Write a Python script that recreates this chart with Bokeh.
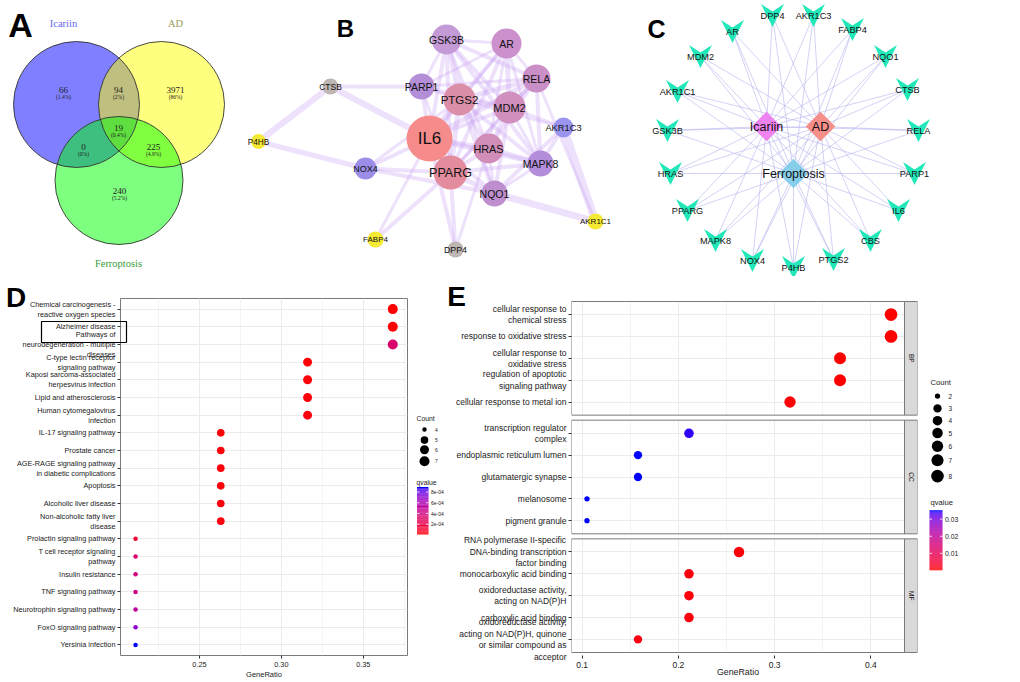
import numpy as np
from bokeh.plotting import figure
from bokeh.models import (Range1d, FactorRange, FixedTicker, NumeralTickFormatter,
                          ColumnDataSource)
from bokeh.transform import linear_cmap
from bokeh.layouts import row, column
from bokeh.embed import file_html
from bokeh.resources import INLINE
from bokeh.core.properties import value

SANS = "Liberation Sans"
SERIF = "Liberation Serif"

# ====================== DATA ======================
# --- Panel A: Venn diagram
venn_names = ["Icariin", "AD", "Ferroptosis"]
venn_fill = ["#0000FF", "#FFFF00", "#00FF00"]
venn_name_color = ["#6666F0", "#9C9C5A", "#3A9A3A"]
venn_cx = [76, 161, 118.5]
venn_cy = [104, 104, 180]
venn_r = [63, 63, 64]
venn_name_x = [63, 175, 118]
venn_name_y = [23, 23, 263]
venn_counts = ["66", "94", "3971", "0", "19", "225", "240"]
venn_pcts = ["(1.4%)", "(2%)", "(86%)", "(0%)", "(0.4%)", "(4.9%)", "(5.2%)"]
venn_lx = [63, 118, 175, 83, 118, 153, 119]
venn_ly = [89, 89, 89, 146, 127, 146, 190]

# --- Panel B: PPI network
b_nodes = ["GSK3B", "AR", "RELA", "CTSB", "PARP1", "PTGS2", "MDM2", "AKR1C3", "P4HB",
           "IL6", "HRAS", "MAPK8", "NOX4", "PPARG", "NQO1", "AKR1C1", "FABP4", "DPP4"]
b_x = [446, 506, 536, 330, 421, 459, 509, 563, 258, 429, 488, 540, 365, 450, 494, 595, 375, 455]
b_y = [39, 43, 78, 86, 86, 99, 107, 127, 141, 138, 148, 163, 168, 172, 193, 221, 239, 249]
b_r = [15, 15, 14, 8, 13, 16, 16, 10, 7.5, 23, 15, 13, 11, 17, 13, 8, 8, 8]
b_fill = ["#C49BD6", "#CC90CC", "#CB8FC8", "#BDB6B2", "#B48FD8", "#DA8EA8", "#D08FBE",
          "#9A94EE", "#F5E933", "#F68B8B", "#CF8DB8", "#B38DDA", "#9C8DE8", "#E38C9D",
          "#BE8ECF", "#F5E933", "#F5E933", "#BDB6B2"]
b_font = [10.5, 10.5, 10.5, 8.5, 10.5, 11.5, 11, 9.3, 8.3, 17, 10.8, 10.5, 9, 12.5, 10.5, 8, 8, 8.8]
b_src = ["IL6", "IL6", "IL6", "IL6", "IL6", "IL6", "IL6", "IL6", "IL6", "IL6",
         "PTGS2", "PTGS2", "PTGS2", "PTGS2", "PTGS2", "PTGS2", "PTGS2", "PTGS2", "PTGS2",
         "PPARG", "PPARG", "PPARG", "PPARG", "PPARG", "PPARG", "PPARG", "PPARG",
         "HRAS", "HRAS", "HRAS", "HRAS", "HRAS", "HRAS",
         "MDM2", "MDM2", "MDM2", "MDM2", "MDM2", "MDM2",
         "GSK3B", "GSK3B", "GSK3B", "GSK3B", "GSK3B",
         "AR", "AR", "AR", "RELA", "RELA", "MAPK8",
         "CTSB", "CTSB", "CTSB", "P4HB", "NOX4", "NOX4", "NOX4", "NOX4",
         "FABP4", "FABP4", "DPP4", "DPP4", "DPP4",
         "AKR1C3", "NQO1", "AKR1C3", "AKR1C3", "AKR1C3", "AKR1C3", "AKR1C1"]
b_dst = ["PTGS2", "PPARG", "HRAS", "MDM2", "GSK3B", "AR", "RELA", "PARP1", "MAPK8", "NQO1",
         "PPARG", "HRAS", "MDM2", "GSK3B", "AR", "RELA", "PARP1", "MAPK8", "NQO1",
         "HRAS", "MDM2", "GSK3B", "AR", "RELA", "PARP1", "MAPK8", "NQO1",
         "MDM2", "GSK3B", "AR", "RELA", "MAPK8", "NQO1",
         "GSK3B", "AR", "RELA", "PARP1", "MAPK8", "NQO1",
         "AR", "RELA", "PARP1", "MAPK8", "NQO1",
         "RELA", "PARP1", "MAPK8", "MAPK8", "PARP1", "NQO1",
         "PARP1", "P4HB", "IL6", "NOX4", "IL6", "PPARG", "NQO1", "PTGS2",
         "PPARG", "IL6", "IL6", "PPARG", "HRAS",
         "AKR1C1", "AKR1C1", "NQO1", "MAPK8", "MDM2", "PTGS2", "RELA"]
b_w = [7, 6, 5, 4, 4, 3, 5, 4, 5, 4,
       5, 4, 4, 4, 4, 5, 3, 4, 4,
       4, 3, 4, 4, 4, 3, 4, 5,
       4, 3, 3, 4, 5, 3,
       4, 5, 4, 4, 3, 4,
       3, 4, 3, 4, 3,
       3, 3, 3, 4, 3, 3,
       4, 6, 6, 5, 4, 4, 4, 3,
       4, 3, 4, 4, 3,
       8, 7, 4, 4, 3, 3, 3]

# --- Panel C: compound-disease-target network
c_targets = ["AR", "DPP4", "AKR1C3", "FABP4", "NQO1", "CTSB", "RELA", "PARP1", "IL6", "CBS",
             "PTGS2", "P4HB", "NOX4", "MAPK8", "PPARG", "HRAS", "GSK3B", "AKR1C1", "MDM2"]
c_tx = [732, 772, 813, 852, 885, 907, 918, 914, 898, 870, 833, 793, 752, 715, 687, 670, 667, 677, 700]
c_ty = [31, 15, 15, 29, 56, 89, 130, 173, 210, 240, 259, 267, 260, 240, 210, 173, 130, 91, 56]
c_hubs = ["Icariin", "AD", "Ferroptosis"]
c_hx = [766, 820, 793]
c_hy = [126, 126, 173]
c_hub_fill = ["#EE82EE", "#F68E8A", "#87CEEB"]

# --- Panel D: KEGG enrichment
d_terms = ["Chemical carcinogenesis -\nreactive oxygen species",
           "Alzheimer disease",
           "Pathways of\nneurodegeneration - multiple\ndiseases",
           "C-type lectin receptor\nsignaling pathway",
           "Kaposi sarcoma-associated\nherpesvirus infection",
           "Lipid and atherosclerosis",
           "Human cytomegalovirus\ninfection",
           "IL-17 signaling pathway",
           "Prostate cancer",
           "AGE-RAGE signaling pathway\nin diabetic complications",
           "Apoptosis",
           "Alcoholic liver disease",
           "Non-alcoholic fatty liver\ndisease",
           "Prolactin signaling pathway",
           "T cell receptor signaling\npathway",
           "Insulin resistance",
           "TNF signaling pathway",
           "Neurotrophin signaling pathway",
           "FoxO signaling pathway",
           "Yersinia infection"]
d_ratio = [0.368, 0.368, 0.368, 0.316, 0.316, 0.316, 0.316, 0.263, 0.263, 0.263,
           0.263, 0.263, 0.263, 0.211, 0.211, 0.211, 0.211, 0.211, 0.211, 0.211]
d_count = [7, 7, 7, 6, 6, 6, 6, 5, 5, 5, 5, 5, 5, 4, 4, 4, 4, 4, 4, 4]
d_q = [1.0e-5, 1.5e-5, 3.4e-4, 2.0e-5, 2.5e-5, 2.5e-5, 3.0e-5, 2.0e-5, 2.5e-5, 2.5e-5,
       3.0e-5, 3.0e-5, 4.0e-5, 1.4e-4, 3.6e-4, 4.1e-4, 4.5e-4, 5.1e-4, 7.1e-4, 8.9e-4]
d_qticks = [2e-4, 4e-4, 6e-4, 8e-4]
d_qlabels = ["2e-04", "4e-04", "6e-04", "8e-04"]
d_legend_counts = [4, 5, 6, 7]

# --- Panel E: GO enrichment
e_group = ["BP"] * 5 + ["CC"] * 5 + ["MF"] * 5
e_terms = ["cellular response to\nchemical stress",
           "response to oxidative stress",
           "cellular response to\noxidative stress",
           "regulation of apoptotic\nsignaling pathway",
           "cellular response to metal ion",
           "transcription regulator\ncomplex",
           "endoplasmic reticulum lumen",
           "glutamatergic synapse",
           "melanosome",
           "pigment granule",
           "RNA polymerase II-specific\nDNA-binding transcription\nfactor binding",
           "monocarboxylic acid binding",
           "oxidoreductase activity,\nacting on NAD(P)H",
           "carboxylic acid binding",
           "oxidoreductase activity,\nacting on NAD(P)H, quinone\nor similar compound as\nacceptor"]
e_ratio = [0.421, 0.421, 0.368, 0.368, 0.316, 0.211, 0.158, 0.158, 0.105, 0.105,
           0.263, 0.211, 0.211, 0.211, 0.158]
e_count = [8, 8, 7, 7, 6, 4, 3, 3, 2, 2, 5, 4, 4, 4, 3]
e_q = [1.0e-4, 1.0e-4, 2.0e-4, 3.0e-4, 5.0e-4, 0.0345, 0.0353, 0.0353, 0.0353, 0.0353,
       6.0e-4, 8.0e-4, 8.0e-4, 9.0e-4, 1.2e-3]
e_qticks = [0.01, 0.02, 0.03]
e_qlabels = ["0.01", "0.02", "0.03"]
e_legend_counts = [2, 3, 4, 5, 6, 7, 8]


# ====================== helpers ======================
def lab_palette(c0, c1, n=256):
    M = np.array([[0.4124564, 0.3575761, 0.1804375],
                  [0.2126729, 0.7151522, 0.0721750],
                  [0.0193339, 0.1191920, 0.9503041]])
    Minv = np.linalg.inv(M)
    wp = np.array([0.95047, 1.0, 1.08883])
    dd = 6 / 29

    def h2rgb(h):
        return np.array([int(h[i:i + 2], 16) for i in (1, 3, 5)]) / 255.0

    def f(t):
        return np.where(t > dd ** 3, np.cbrt(t), t / (3 * dd * dd) + 4 / 29)

    def finv(t):
        return np.where(t > dd, t ** 3, 3 * dd * dd * (t - 4 / 29))

    def to_lab(rgb):
        lin = np.where(rgb <= 0.04045, rgb / 12.92, ((rgb + 0.055) / 1.055) ** 2.4)
        fx, fy, fz = f(M @ lin / wp)
        return np.array([116 * fy - 16, 500 * (fx - fy), 200 * (fy - fz)])

    l0, l1 = to_lab(h2rgb(c0)), to_lab(h2rgb(c1))
    out = []
    for t in np.linspace(0, 1, n):
        L, a, b = l0 + (l1 - l0) * t
        fy = (L + 16) / 116
        xyz = finv(np.array([fy + a / 500, fy, fy - b / 200])) * wp
        lin = np.clip(Minv @ xyz, 0, 1)
        rgb = np.where(lin <= 0.0031308, 12.92 * lin, 1.055 * lin ** (1 / 2.4) - 0.055)
        rgb = np.clip(np.round(rgb * 255), 0, 255).astype(int)
        out.append("#%02x%02x%02x" % tuple(rgb))
    return out


PAL = lab_palette("#FF0000", "#0000FF", 256)


def d_size(c):
    return 4.5 + 5.5 * np.sqrt((c - min(d_count)) / (max(d_count) - min(d_count)))


def e_size(c):
    return 5.3 + 7.4 * np.sqrt((c - min(e_count)) / (max(e_count) - min(e_count)))


def plain_fig(w, h, xr, yr):
    p = figure(width=w, height=h, x_range=xr, y_range=yr, x_axis_type=None, y_axis_type=None,
               toolbar_location=None, output_backend="svg", min_border=0)
    p.outline_line_color = None
    return p


def style_axes(p, tick_fs):
    for ax in (p.xaxis[0], p.yaxis[0]):
        ax.axis_line_color = None
        ax.major_tick_line_color = "#333333"
        ax.major_tick_out = 3
        ax.major_tick_in = 0
        ax.minor_tick_line_color = None
        ax.major_label_text_font = SANS
        ax.major_label_text_font_size = tick_fs
        ax.major_label_text_color = "#1A1A1A"
        ax.major_label_standoff = 2


TOP_H = 276
BOT_H = 682 - TOP_H
FR_TOP, FR_BOT = 298, 655        # common frame (page px) for panels D and E

# ====================== TOP ROW (A, B, C) ======================
top = plain_fig(1020, TOP_H, Range1d(0, 1020), Range1d(TOP_H, 0))

# Panel A
for cx, cy, r, col in zip(venn_cx, venn_cy, venn_r, venn_fill):
    top.circle(x=[cx], y=[cy], radius=r, fill_color=col, fill_alpha=0.5, line_color=None)
top.circle(x=venn_cx, y=venn_cy, radius=venn_r, fill_color=None, line_color="#333333",
           line_width=0.9)
top.text(x=venn_lx, y=venn_ly, text=venn_counts, text_font=value(SERIF), text_font_size="9px",
         text_align="center", text_baseline="middle", text_color="#222222")
top.text(x=venn_lx, y=[v + 7 for v in venn_ly], text=venn_pcts, text_font=value(SERIF),
         text_font_size="5.5px", text_align="center", text_baseline="middle", text_color="#222222")
top.text(x=venn_name_x, y=venn_name_y, text=venn_names, text_color=venn_name_color,
         text_font=value(SERIF), text_font_size="10.5px", text_align="center",
         text_baseline="middle")

# Panel B
bidx = {n: i for i, n in enumerate(b_nodes)}
top.multi_line(xs=[[b_x[bidx[s]], b_x[bidx[d]]] for s, d in zip(b_src, b_dst)],
               ys=[[b_y[bidx[s]], b_y[bidx[d]]] for s, d in zip(b_src, b_dst)],
               line_color="#C9A3F4", line_alpha=0.32, line_width=b_w)
top.circle(x=b_x, y=b_y, radius=b_r, fill_color=b_fill, line_color=None)
top.text(x=b_x, y=b_y, text=b_nodes, text_font=value(SANS),
         text_font_size=["%spx" % s for s in b_font], text_align="center",
         text_baseline="middle", text_color="#111111")

# Panel C
cxs, cys = [], []
for tx, ty in zip(c_tx, c_ty):
    for hx, hy in zip(c_hx, c_hy):
        cxs.append([tx, hx])
        cys.append([ty, hy])
top.multi_line(xs=cxs, ys=cys, line_color="#B4B4EE", line_alpha=0.75, line_width=0.8)
vw, vn = 11.5, 4.0
top.patches(xs=[[x - vw, x, x + vw, x] for x in c_tx],
            ys=[[y - vw, y - vn, y - vw, y + vw] for y in c_ty],
            fill_color="#22E8B9", line_color=None)
top.scatter(x=c_hx, y=c_hy, marker="square", angle=np.pi / 4, size=21,
            fill_color=c_hub_fill, line_color=None)
top.text(x=c_tx, y=c_ty, text=c_targets, text_font=value(SANS), text_font_size="9.2px",
         text_align="center", text_baseline="middle", text_color="#111111")
top.text(x=c_hx, y=c_hy, text=c_hubs, text_font=value(SANS), text_font_size="12.5px",
         text_align="center", text_baseline="middle", text_color="#111111")

# panel letters
top.text(x=[20, 345, 656], y=[24.5, 28, 28], text=["A", "B", "C"], text_font=value(SANS),
         text_font_size=["34px", "24px", "25px"], text_font_style="bold",
         text_align="center", text_baseline="middle", text_color="#000000")

# ====================== PANEL D ======================
D_X0, D_X1 = 0.2018, 0.377
D_PAD = 0.1
d_n = len(d_terms)
D_W = 412


def d_x(px):
    return D_X0 + (px - 120) / (407 - 120) * (D_X1 - D_X0)


def d_y(py):
    return (d_n + D_PAD) - (py - FR_TOP) / (FR_BOT - FR_TOP) * (d_n + 2 * D_PAD)


Dp = figure(width=D_W, height=BOT_H, x_range=Range1d(D_X0, D_X1),
            y_range=FactorRange(factors=list(reversed(d_terms)), range_padding=D_PAD,
                                range_padding_units="absolute"),
            toolbar_location=None, output_backend="svg",
            min_border_left=120, min_border_right=D_W - 407,
            min_border_top=FR_TOP - TOP_H, min_border_bottom=682 - FR_BOT)
Dp.outline_line_color = "#7A7A7A"
Dp.xgrid.grid_line_color = "#EBEBEB"
Dp.xgrid.minor_grid_line_color = "#F4F4F4"
Dp.ygrid.grid_line_color = "#EBEBEB"
Dp.xaxis.ticker = FixedTicker(ticks=[0.25, 0.30, 0.35], minor_ticks=[0.225, 0.275, 0.325, 0.375])
Dp.xaxis.formatter = NumeralTickFormatter(format="0.00")
style_axes(Dp, "7.3px")
Dp.yaxis.major_label_text_line_height = 1.1
src_d = ColumnDataSource(dict(term=d_terms, ratio=d_ratio, q=d_q,
                              sz=[d_size(c) for c in d_count]))
Dp.scatter("ratio", "term", size="sz", source=src_d, line_color=None,
           fill_color=linear_cmap("q", PAL, min(d_q), max(d_q)))
# axis title, highlight box around "Alzheimer disease" label and panel letter (outside the frame)
Dp.text(x=[(D_X0 + D_X1) / 2], y=[d_y(674)], text=["GeneRatio"], text_font=value(SANS),
        text_font_size="7.5px", text_align="center", text_baseline="middle",
        text_color="#1A1A1A", level="overlay")
Dp.quad(left=[d_x(41)], right=[d_x(126)], bottom=[d_y(342)], top=[d_y(321)],
        fill_color=None, line_color="black", line_width=1.2, level="overlay")
Dp.text(x=[d_x(15.5)], y=[d_y(296.5)], text=["D"], text_font=value(SANS),
        text_font_size="28px", text_font_style="bold", text_align="center",
        text_baseline="middle", level="overlay")

# D legend
DL_W = 35
DL = plain_fig(DL_W, BOT_H, Range1d(D_W, D_W + DL_W), Range1d(682, TOP_H))
DL.text(x=[416, 416], y=[413, 485], text=["Count", "qvalue"], text_font=value(SANS),
        text_font_size="6.8px", text_align="left", text_baseline="middle", text_color="#1A1A1A")
d_leg_y = [425, 437, 448, 461]
DL.scatter(x=[424] * len(d_legend_counts), y=d_leg_y, size=[d_size(c) for c in d_legend_counts],
           fill_color="black", line_color=None)
DL.text(x=[434.5] * len(d_legend_counts), y=d_leg_y, text=[str(c) for c in d_legend_counts],
        text_font=value(SANS), text_font_size="5px", text_align="left", text_baseline="middle",
        text_color="#1A1A1A")
d_cb_low, d_cb_high = 544.5, 490.5
nb = 60
edges = np.linspace(d_cb_low, d_cb_high, nb + 1)
DL.quad(left=416.5, right=428, bottom=edges[:-1], top=edges[1:], line_color=None,
        fill_color=[PAL[int(round(i / (nb - 1) * 255))] for i in range(nb)])
d_tick_y = [d_cb_low + (v - min(d_q)) / (max(d_q) - min(d_q)) * (d_cb_high - d_cb_low)
            for v in d_qticks]
DL.segment(x0=[416.5] * 4 + [425.5] * 4, x1=[419] * 4 + [428] * 4, y0=d_tick_y * 2,
           y1=d_tick_y * 2, line_color="white", line_width=0.8)
DL.text(x=[430.5] * 4, y=d_tick_y, text=d_qlabels, text_font=value(SANS), text_font_size="5px",
        text_align="left", text_baseline="middle", text_color="#1A1A1A")

# ====================== PANEL E ======================
E_X0, E_X1 = 0.0889, 0.435
E_GP = 0.43
E_PAD = 0.1                      # ggplot expansion beyond outer factor edge (0.6 - 0.5)
groups_bt = ["MF", "CC", "BP"]
per_group = [e_group.count(g) for g in groups_bt]
e_total = sum(per_group) + (len(groups_bt) - 1) * E_GP
e_unit = (652 - 301) / (e_total + 2 * E_PAD)     # px per factor unit inside panels
E_RP = E_PAD + 3.0 / e_unit                      # extra blank band so frame = common frame
E_LEFT = D_W + DL_W
E_W = 925 - E_LEFT


def e_x(px):
    return E_X0 + (px - 571) / (904 - 571) * (E_X1 - E_X0)


def e_y(py):
    return (e_total + E_RP) - (py - FR_TOP) / (FR_BOT - FR_TOP) * (e_total + 2 * E_RP)


strip_r = e_x(917)
e_factors = list(reversed(list(zip(e_group, e_terms))))
Ep = figure(width=E_W, height=BOT_H, x_range=Range1d(E_X0, strip_r),
            y_range=FactorRange(factors=e_factors, range_padding=E_RP,
                                range_padding_units="absolute", group_padding=E_GP,
                                factor_padding=0),
            toolbar_location=None, output_backend="svg",
            min_border_left=571 - E_LEFT, min_border_right=925 - 917,
            min_border_top=FR_TOP - TOP_H, min_border_bottom=682 - FR_BOT)
Ep.outline_line_color = None
Ep.xgrid.grid_line_color = "#EBEBEB"
Ep.xgrid.minor_grid_line_color = "#F4F4F4"
Ep.ygrid.grid_line_color = "#EBEBEB"
Ep.xaxis.ticker = FixedTicker(ticks=[0.1, 0.2, 0.3, 0.4], minor_ticks=[0.15, 0.25, 0.35])
Ep.xaxis.formatter = NumeralTickFormatter(format="0.0")
style_axes(Ep, "8.5px")
Ep.yaxis.major_label_text_line_height = 1.15
Ep.yaxis.group_text_font_size = "0px"
Ep.yaxis.group_text_color = None
Ep.yaxis.separator_line_color = None

bounds = []
base = 0.0
for g, n in zip(groups_bt, per_group):
    bounds.append((g, base - E_PAD, base + n + E_PAD))
    base += n + E_GP
blank_bot = [-E_RP] + [hi for (_, _, hi) in bounds]
blank_top = [lo for (_, lo, _) in bounds] + [e_total + E_RP]
Ep.quad(left=E_X0, right=strip_r, bottom=blank_bot, top=blank_top, fill_color="white",
        line_color=None)
Ep.quad(left=E_X1, right=strip_r, bottom=[b[1] for b in bounds], top=[b[2] for b in bounds],
        fill_color="#D9D9D9", line_color="#7A7A7A", line_width=1)
Ep.quad(left=E_X0, right=E_X1, bottom=[b[1] for b in bounds], top=[b[2] for b in bounds],
        fill_color=None, line_color="#7A7A7A", line_width=1)
Ep.text(x=[(E_X1 + strip_r) / 2] * 3, y=[(b[1] + b[2]) / 2 for b in bounds],
        text=[b[0] for b in bounds], angle=-np.pi / 2, text_font=value(SANS),
        text_font_size="6.5px", text_align="center", text_baseline="middle",
        text_color="#1A1A1A")

src_e = ColumnDataSource(dict(yy=list(zip(e_group, e_terms)), ratio=e_ratio, q=e_q,
                              sz=[e_size(c) for c in e_count]))
Ep.scatter("ratio", "yy", size="sz", source=src_e, line_color=None,
           fill_color=linear_cmap("q", PAL, min(e_q), max(e_q)))
Ep.text(x=[e_x(737.5)], y=[e_y(671)], text=["GeneRatio"], text_font=value(SANS),
        text_font_size="8.8px", text_align="center", text_baseline="middle",
        text_color="#1A1A1A", level="overlay")
Ep.text(x=[e_x(456)], y=[e_y(296)], text=["E"], text_font=value(SANS),
        text_font_size="28px", text_font_style="bold", text_align="center",
        text_baseline="middle", level="overlay")

# E legend
EL_W = 1020 - 925
EL = plain_fig(EL_W, BOT_H, Range1d(925, 1020), Range1d(682, TOP_H))
EL.text(x=[930, 930], y=[372, 508], text=["Count", "qvalue"], text_font=value(SANS),
        text_font_size="7.6px", text_align="left", text_baseline="middle", text_color="#1A1A1A")
e_leg_y = [387, 401, 415, 429, 444, 460, 478]
EL.scatter(x=[937] * len(e_legend_counts), y=e_leg_y, size=[e_size(c) for c in e_legend_counts],
           fill_color="black", line_color=None)
EL.text(x=[948] * len(e_legend_counts), y=e_leg_y, text=[str(c) for c in e_legend_counts],
        text_font=value(SANS), text_font_size="6.5px", text_align="left",
        text_baseline="middle", text_color="#1A1A1A")
e_cb_low, e_cb_high = 585.0, 516.7
edges_e = np.linspace(e_cb_low, e_cb_high, nb + 1)
EL.quad(left=929, right=942, bottom=edges_e[:-1], top=edges_e[1:], line_color=None,
        fill_color=[PAL[int(round(i / (nb - 1) * 255))] for i in range(nb)])
e_tick_y = [e_cb_low + (v - min(e_q)) / (max(e_q) - min(e_q)) * (e_cb_high - e_cb_low)
            for v in e_qticks]
EL.segment(x0=[929] * 3 + [939.5] * 3, x1=[931.5] * 3 + [942] * 3, y0=e_tick_y * 2,
           y1=e_tick_y * 2, line_color="white", line_width=0.8)
EL.text(x=[944.5] * 3, y=e_tick_y, text=e_qlabels, text_font=value(SANS),
        text_font_size="6.8px", text_align="left", text_baseline="middle", text_color="#1A1A1A")

layout = column(top, row(Dp, DL, Ep, EL))
open("out.html", "w").write(file_html(layout, INLINE, "Figure"))
